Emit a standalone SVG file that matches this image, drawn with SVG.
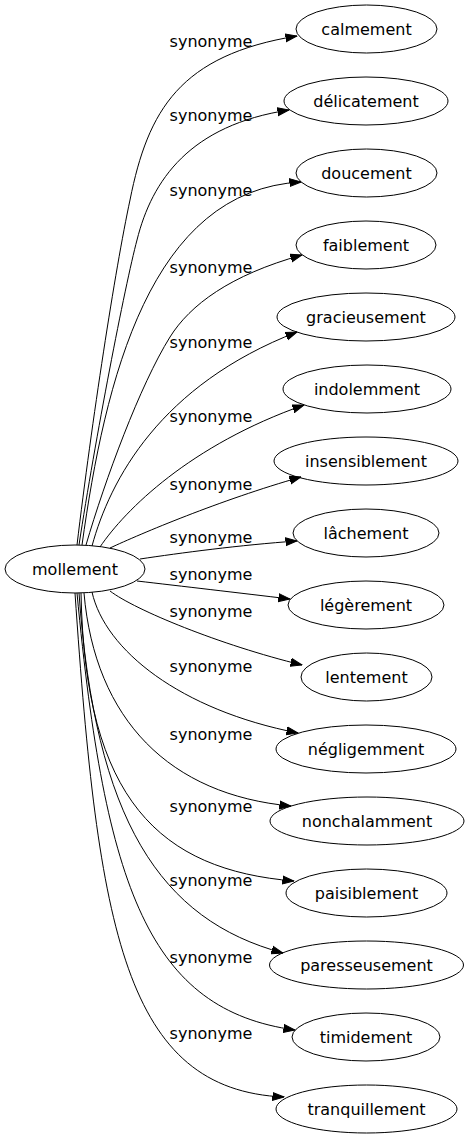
<svg xmlns="http://www.w3.org/2000/svg" width="469" height="1139" viewBox="0 0 469 1139">
<defs>
<style>
.node ellipse{fill:none;stroke:#000;stroke-width:1}
.node text{font-family:"DejaVu Sans","Liberation Sans",sans-serif;font-size:16px;fill:#000;text-anchor:middle}
.edges path{fill:none;stroke:#000;stroke-width:1;marker-end:url(#arr)}
.edges text{font-family:"DejaVu Sans","Liberation Sans",sans-serif;font-size:16px;fill:#000;text-anchor:middle}
</style>
<marker id="arr" markerUnits="userSpaceOnUse" viewBox="0 -5 12 10" markerWidth="12" markerHeight="10" refX="11.5" refY="0" orient="auto">
<path d="M0,-4 L11.5,0 L0,4 Z" fill="#000" stroke="#000" stroke-width="1"/>
</marker>
</defs>
<rect x="0" y="0" width="469" height="1139" fill="#fff"/>
<g id="edges" class="edges">
<path d="M77,545 C92,420 115,270 130,200 C148,110 180,55 297,36"/>
<text x="211" y="46.5">synonyme</text>
<path d="M79,545 C95,440 125,285 137,240 C152,180 190,125 289,110"/>
<text x="211" y="120.5">synonyme</text>
<path d="M82,545 C105,380 150,190 301,182"/>
<text x="211" y="196">synonyme</text>
<path d="M86,545 C105,480 140,385 170,337 C190,305 230,275 302,255"/>
<text x="211" y="273">synonyme</text>
<path d="M92,546 C110,480 160,385 297,332"/>
<text x="211" y="348">synonyme</text>
<path d="M100,547 C125,510 190,445 304,405"/>
<text x="211" y="422">synonyme</text>
<path d="M110,548 C140,534 220,500 301,477"/>
<text x="211" y="489.5">synonyme</text>
<path d="M140,559 C180,553 240,545 297,541"/>
<text x="211" y="543">synonyme</text>
<path d="M137,581 C180,586 240,593 290,599"/>
<text x="211" y="579.5">synonyme</text>
<path d="M110,591 C135,610 220,645 302,665"/>
<text x="211" y="617">synonyme</text>
<path d="M92,592 C105,650 180,710 298,733"/>
<text x="211" y="671.5">synonyme</text>
<path d="M84,593 C95,720 170,795 291,806"/>
<text x="211" y="739.5">synonyme</text>
<path d="M81,593 C85,800 160,870 294,881"/>
<text x="211" y="811.5">synonyme</text>
<path d="M79,593 C95,820 160,920 283,953"/>
<text x="211" y="885.5">synonyme</text>
<path d="M77,593 C105,890 150,1010 295,1030"/>
<text x="211" y="962.5">synonyme</text>
<path d="M75,593 C98,930 125,1090 284,1097"/>
<text x="211" y="1038.5">synonyme</text>
</g>
<g id="node-mollement" class="node"><ellipse cx="75" cy="569" rx="70" ry="24"/><text x="75" y="575">mollement</text></g>
<g id="node-calmement" class="node"><ellipse cx="366.5" cy="29" rx="70.5" ry="24"/><text x="366.5" y="35">calmement</text></g>
<g id="node-delicatement" class="node"><ellipse cx="366" cy="101" rx="82" ry="24"/><text x="366" y="107">délicatement</text></g>
<g id="node-doucement" class="node"><ellipse cx="366.5" cy="173" rx="70.5" ry="24"/><text x="366.5" y="179">doucement</text></g>
<g id="node-faiblement" class="node"><ellipse cx="366" cy="245" rx="70" ry="24"/><text x="366" y="251">faiblement</text></g>
<g id="node-gracieusement" class="node"><ellipse cx="366" cy="317" rx="89" ry="24"/><text x="366" y="323">gracieusement</text></g>
<g id="node-indolemment" class="node"><ellipse cx="367" cy="389" rx="84" ry="24"/><text x="367" y="395">indolemment</text></g>
<g id="node-insensiblement" class="node"><ellipse cx="366" cy="461" rx="92" ry="24"/><text x="366" y="467">insensiblement</text></g>
<g id="node-lachement" class="node"><ellipse cx="366" cy="533" rx="73" ry="24"/><text x="366" y="539">lâchement</text></g>
<g id="node-legerement" class="node"><ellipse cx="366" cy="605" rx="78" ry="24"/><text x="366" y="611">légèrement</text></g>
<g id="node-lentement" class="node"><ellipse cx="366.5" cy="677" rx="65.5" ry="24"/><text x="366.5" y="683">lentement</text></g>
<g id="node-negligemment" class="node"><ellipse cx="366" cy="749" rx="90" ry="24"/><text x="366" y="755">négligemment</text></g>
<g id="node-nonchalamment" class="node"><ellipse cx="367" cy="821" rx="97" ry="24"/><text x="367" y="827">nonchalamment</text></g>
<g id="node-paisiblement" class="node"><ellipse cx="366.5" cy="893" rx="80.5" ry="24"/><text x="366.5" y="899">paisiblement</text></g>
<g id="node-paresseusement" class="node"><ellipse cx="366.5" cy="965" rx="97" ry="24"/><text x="366.5" y="971">paresseusement</text></g>
<g id="node-timidement" class="node"><ellipse cx="366" cy="1037" rx="74" ry="24"/><text x="366" y="1043">timidement</text></g>
<g id="node-tranquillement" class="node"><ellipse cx="366.5" cy="1109" rx="90.5" ry="24"/><text x="366.5" y="1115">tranquillement</text></g>
</svg>
